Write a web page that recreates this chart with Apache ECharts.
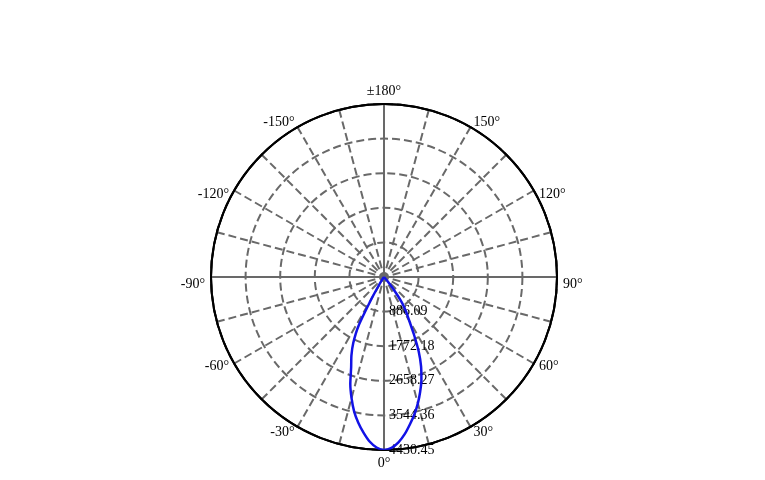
<!DOCTYPE html>
<html>
<head>
<meta charset="utf-8">
<script src="https://cdn.jsdelivr.net/npm/echarts@6/dist/echarts.min.js"></script>
<style>
html,body{margin:0;padding:0;background:#fff;}
#c{width:765px;height:480px;}
</style>
</head>
<body>
<div id="c"></div>
<script>
// Beam angles (degrees, 0 = straight down) and intensities
var angles = [-45, -40, -35, -32.5, -30, -27.5, -25, -22.5, -20, -17.5, -15, -12.5, -10, -7.5, -5, -2.5, 0,
              2.5, 5, 7.5, 10, 12.5, 15, 17.5, 20, 22.5, 25, 27.5, 30, 32.5, 35, 37.5, 40, 42.5, 45];
var intensity = [0, 20, 80, 200, 600, 1420, 1860, 2180, 2460, 2870, 3210, 3530, 3790, 4020, 4230, 4370, 4430,
                 4380, 4250, 4060, 3830, 3600, 3350, 3080, 2800, 2480, 2100, 1660, 1290, 1050, 800, 420, 120, 20, 0];
var ringValues = [886.09, 1772.18, 2658.27, 3544.36, 4430.45];
var angleTicks = [180, 150, 120, 90, 60, 30, 0, -30, -60, -90, -120, -150];
var angleTickLabels = ['\u00b1180\u00b0', '150\u00b0', '120\u00b0', '90\u00b0', '60\u00b0', '30\u00b0', '0\u00b0',
                       '-30\u00b0', '-60\u00b0', '-90\u00b0', '-120\u00b0', '-150\u00b0'];

var maxR = ringValues[ringValues.length - 1];
var step = ringValues[0];
var font = '"Liberation Serif","Times New Roman",serif';
var CX = 384, CY = 277, RAD = 173;

var chart = echarts.init(document.getElementById('c'));
var lineData = angles.map(function (a, i) { return [intensity[i], a]; });

chart.setOption({
  animation: false,
  backgroundColor: '#fff',
  polar: [
    { center: [CX, CY], radius: RAD },
    { center: [CX, CY], radius: RAD }
  ],
  angleAxis: [
    {
      polarIndex: 0, type: 'value', min: -180, max: 180, interval: 15,
      startAngle: 90, clockwise: false,
      axisLine: { show: true, lineStyle: { color: '#000', width: 2 } },
      axisTick: { show: false },
      splitLine: { show: true, lineStyle: { color: '#696969', width: 2, type: [8, 4] } },
      axisLabel: { show: false },
      z: 1
    },
    {
      polarIndex: 1, type: 'value', min: -180, max: 180, interval: 90,
      startAngle: 270, clockwise: false,
      axisLine: { show: true, lineStyle: { color: '#000', width: 2 } },
      axisTick: { show: false },
      axisLabel: { show: false },
      splitLine: { show: true, lineStyle: { color: '#696969', width: 2, type: 'solid' } },
      z: 2
    }
  ],
  radiusAxis: [
    {
      polarIndex: 0, type: 'value', min: 0, max: maxR, interval: step,
      axisLine: { show: false }, axisTick: { show: false }, axisLabel: { show: false },
      splitLine: { show: true, lineStyle: { color: '#696969', width: 2, type: [8, 4] } },
      z: 1
    },
    {
      polarIndex: 1, type: 'value', min: 0, max: maxR, interval: step,
      axisLine: { show: false }, axisTick: { show: false },
      splitLine: { show: false },
      axisLabel: {
        show: true, margin: 5, color: '#000', fontFamily: font, fontSize: 14,
        formatter: function (v) {
          for (var i = 0; i < ringValues.length; i++) {
            if (Math.abs(ringValues[i] - v) < 0.01) return ringValues[i].toFixed(2);
          }
          return '';
        }
      },
      z: 3
    }
  ],
  series: [
    {
      type: 'line', coordinateSystem: 'polar', polarIndex: 0,
      data: lineData, showSymbol: false, smooth: 0.2,
      lineStyle: { color: '#1212e6', width: 2.5 }, z: 5
    }
  ]
});

// Angle tick labels placed just outside the rim, positioned through the polar coordinate system
var labelR = maxR * (RAD + 6) / RAD;
var graphics = angleTicks.map(function (a, i) {
  var p = null;
  try { p = chart.convertToPixel({ polarIndex: 0 }, [labelR, a]); } catch (e) { p = null; }
  if (!p || isNaN(p[0])) {
    var rr = RAD + 6, t = a * Math.PI / 180;
    p = [CX + rr * Math.sin(t), CY + rr * Math.cos(t)];
  }
  var abs = Math.abs(a);
  var align = (abs === 0 || abs === 180) ? 'center' : (a > 0 ? 'left' : 'right');
  var valign = 'middle';
  if (abs === 0 || abs === 90 || abs === 120) valign = 'top';
  if (abs === 180) valign = 'bottom';
  return {
    type: 'text', x: p[0], y: p[1], silent: true, z: 10,
    style: {
      text: angleTickLabels[i], fill: '#000',
      font: '14px ' + font, align: align, verticalAlign: valign
    }
  };
});
chart.setOption({ graphic: graphics });
</script>
</body>
</html>
